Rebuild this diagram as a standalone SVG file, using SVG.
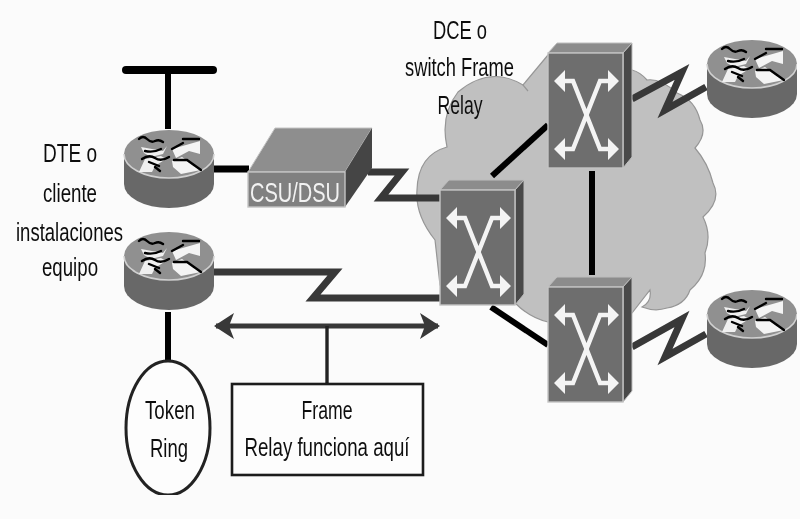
<svg xmlns="http://www.w3.org/2000/svg" width="800" height="519" viewBox="0 0 800 519">
<style>
text{font-family:"Liberation Sans",Arial,sans-serif;font-size:25px;fill:#111;text-anchor:middle}
.blk{fill:none;stroke:#000;stroke-linejoin:miter}
.ser{fill:none;stroke:#383838;stroke-width:7;stroke-linejoin:miter}
.wave{fill:none;stroke:#000;stroke-width:2.4;stroke-linecap:round}
</style>
<defs>
<filter id="soft" x="0" y="0" width="100%" height="100%"><feGaussianBlur stdDeviation="0.7"/></filter>
<marker id="chev" viewBox="0 0 20 26" refX="18" refY="13" markerUnits="userSpaceOnUse" markerWidth="20" markerHeight="26" orient="auto-start-reverse"><path d="M0 0L20 13L0 26L5 13Z" fill="#383838"/></marker>
<g id="router">
<path d="M-45 0V30A45 24 0 0 0 45 30V0Z" fill="#686868"/>
<ellipse rx="45" ry="24" fill="#909090"/>
<path d="M-45 0A45 24 0 0 0 45 0" fill="none" stroke="#d0d0d0" stroke-width="1.6"/>
<path d="M3-5L31-13V0L20-3L7 4Z" fill="#f4f4f4"/>
<path d="M3 7L13 3L20 8L32 16L12 20L4 13Z" fill="#f4f4f4"/>
<path d="M-30 18L-24 5L-8 2L-3 5L-14 12L-17 18Z" fill="#f0f0f0"/>
<path d="M-28-7L-6-3L-2-8L-6 0L-18 3L-25-1Z" fill="#f0f0f0"/>
<path class="wave" d="M3-5L14-11M14-15H30M5 6H18L32 16M-30-15Q-26-19-22-15T-14-13T-6-12M-27 5Q-20 0-14 4T0 3M-24-3Q-16-1-8-5M-20 8L-10 12M-14 13L-9 17"/>
</g>
<g id="switch">
<path d="M0 0L9-10H84L75 0Z" fill="#8c8c8c" stroke="#bdbdbd"/>
<path d="M75 0L84-10V104L75 115Z" fill="#484848" stroke="#bdbdbd"/>
<rect width="75" height="115" fill="#6e6e6e" stroke="#c4c4c4" stroke-width="1.4"/>
<path d="M14 28H25L52 96H62M62 28H52L25 96H14" fill="none" stroke="#f4f4f4" stroke-width="4.4"/>
<path d="M6 28L17 17V39ZM71 28L60 17V39ZM6 96L17 85V107ZM71 96L60 85V107Z" fill="#f4f4f4"/>
</g>
</defs>
<rect width="800" height="519" fill="#fbfbfb"/>
<g filter="url(#soft)">
<g id="cloud">
<path d="M548 55L523 85Q490 65 458 92Q440 115 447 147Q418 155 417 190Q415 215 435 240L440 285L515 303Q530 318 548 322L632 313L650 290Q652 302 642 307Q655 312 667 308Q685 305 690 290Q708 275 705 253Q712 235 703 217Q722 200 713 183Q708 163 695 148Q708 133 700 120Q695 100 677 93Q660 78 647 80Q640 72 632 70Z" fill="#c0c0c0" stroke="#969696" stroke-width="1.2"/>
<path d="M523 85L528 91" fill="none" stroke="#969696" stroke-width="1.2"/>
</g>
<g id="connectors">
<path class="blk" stroke-width="8" stroke-linecap="round" d="M126 70H213"/>
<path class="blk" stroke-width="6" d="M168 70V129"/>
<path class="blk" stroke-width="7" d="M214 169H249"/>
<path class="blk" stroke-width="6" d="M168 312V362"/>
<path class="ser" d="M368 172H402L381 198H441"/>
<path class="ser" d="M214 272H335L313 298H441"/>
<path class="ser" d="M632 99L682 72L665 110L706 87"/>
<path class="ser" d="M632 347L682 319L665 357L706 334"/>
<path class="blk" stroke-width="6" d="M492 176L548 125"/>
<path class="blk" stroke-width="6" d="M592 171V275"/>
<path class="blk" stroke-width="6" d="M491 307L548 345"/>
<path d="M216 326H438" fill="none" stroke="#383838" stroke-width="5" marker-start="url(#chev)" marker-end="url(#chev)"/>
<path d="M327 326V384" fill="none" stroke="#222" stroke-width="3.4"/>
</g>
<use id="router-a" href="#router" x="169" y="154"/>
<use id="router-b" href="#router" x="169" y="256"/>
<use id="router-c" href="#router" x="752" y="64"/>
<use id="router-d" href="#router" x="752" y="314"/>
<use id="switch-a" href="#switch" x="548" y="53"/>
<use id="switch-b" href="#switch" x="440" y="190"/>
<use id="switch-c" href="#switch" x="548" y="287"/>
<g id="csu">
<path d="M248 172L275 128H372L345 172Z" fill="#8e8e8e" stroke="#c4c4c4"/>
<path d="M345 172L372 128V168L345 207Z" fill="#444"/>
<rect x="248" y="172" width="97" height="35" fill="#808080" stroke="#c4c4c4" stroke-width="1.4"/>
<text x="295" y="202" textLength="90" lengthAdjust="spacingAndGlyphs" style="fill:#f2f2f2;font-size:28px">CSU/DSU</text>
</g>
<g id="token-ring">
<ellipse cx="168" cy="428" rx="42" ry="67" fill="#fdfdfd" stroke="#222" stroke-width="3"/>
<text x="170" y="419" textLength="50" lengthAdjust="spacingAndGlyphs">Token</text>
<text x="169" y="457" textLength="38" lengthAdjust="spacingAndGlyphs">Ring</text>
</g>
<g id="note">
<rect x="232" y="384" width="191" height="91" fill="#fdfdfd" stroke="#1a1a1a" stroke-width="2.6"/>
<text x="327" y="419" textLength="51" lengthAdjust="spacingAndGlyphs">Frame</text>
<text x="327" y="456" textLength="165" lengthAdjust="spacingAndGlyphs">Relay funciona aquí</text>
</g>
<g id="dte-label">
<text x="70" y="162" textLength="54" lengthAdjust="spacingAndGlyphs">DTE o</text>
<text x="70" y="202" textLength="54" lengthAdjust="spacingAndGlyphs">cliente</text>
<text x="69.500" y="241" textLength="107" lengthAdjust="spacingAndGlyphs">instalaciones</text>
<text x="70" y="276" textLength="56" lengthAdjust="spacingAndGlyphs">equipo</text>
</g>
<g id="dce-label">
<text x="460" y="39" textLength="54" lengthAdjust="spacingAndGlyphs">DCE o</text>
<text x="459.500" y="76" textLength="109" lengthAdjust="spacingAndGlyphs">switch Frame</text>
<text x="460" y="114" textLength="45" lengthAdjust="spacingAndGlyphs">Relay</text>
</g>
</g>
</svg>
